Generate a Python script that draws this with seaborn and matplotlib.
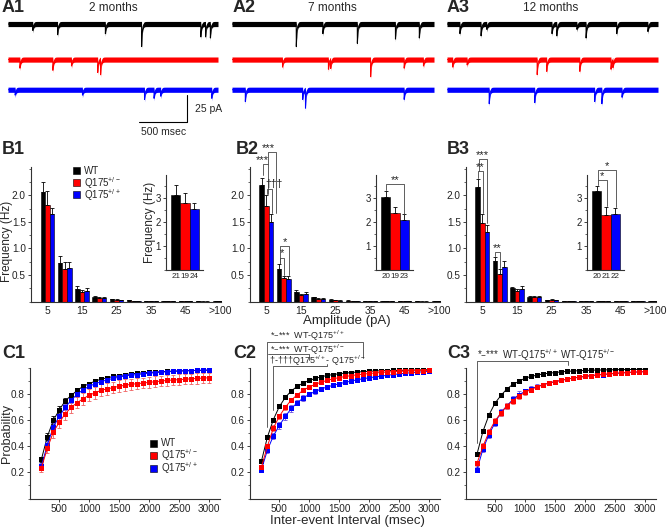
import numpy as np
import pandas as pd
import matplotlib
matplotlib.use("Agg")
import matplotlib.pyplot as plt
import seaborn as sns
from matplotlib.patches import Rectangle
from matplotlib.ticker import MultipleLocator, FixedLocator

sns.set_style("ticks")
plt.rcParams['font.family'] = ['Liberation Sans', 'DejaVu Sans']
plt.rcParams['mathtext.default'] = 'regular'
plt.rcParams['axes.linewidth'] = 0.8

# ---------------- data ----------------
genos = ['WT', 'Q175+/-', 'Q175+/+']
labels = ['WT', r'Q175$^{+/-}$', r'Q175$^{+/+}$']
pal = {'WT': '#000000', 'Q175+/-': '#ff0000', 'Q175+/+': '#0000ff'}
err_pal = {'WT': '#000000', 'Q175+/-': '#f06060', 'Q175+/+': '#6a4ee0'}

# A: example traces, event times (msec) and amplitudes (pA)
a1_wt_t = [260, 520, 1020, 1400, 2020, 2070, 2120]
a1_wt_a = [6, 10, 9, 21, 12, 12, 13]
a1_het_t = [125, 470, 665, 940, 970]
a1_het_a = [8, 10, 6, 12, 14]
a1_hom_t = [75, 780, 1430, 1530, 1600, 2135]
a1_hom_a = [5, 5, 9, 8, 6, 8]
a2_wt_t = [700, 990, 1365, 1780, 2040]
a2_wt_a = [21, 9, 18, 14, 13]
a2_het_t = [550, 1050, 1075, 1510, 1875, 2085]
a2_het_a = [7, 9, 8, 16, 8, 6]
a2_hom_t = [145, 770, 800, 1875]
a2_hom_a = [11, 9, 17, 9]
a3_wt_t = [135, 355, 415, 1095, 1145, 1355, 1450, 1770, 2095]
a3_wt_a = [9, 11, 5, 9, 11, 5, 13, 9, 7]
a3_het_t = [60, 210, 940, 1040, 1385, 1710, 1730]
a3_het_a = [7, 5, 14, 11, 11, 9, 7]
a3_hom_t = [440, 915, 1540, 1615, 1825]
a3_hom_a = [13, 12, 11, 13, 7]

# B: amplitude histograms (Hz)
bins = ['5', '10', '15', '20', '25', '30', '35', '40', '45', '50', '>100']
b1_wt = [2.06, 0.73, 0.24, 0.09, 0.05, 0.03, 0.015, 0.01, 0.008, 0.006, 0.01]
b1_wt_e = [0.19, 0.13, 0.06, 0.02, 0.01, 0.008, 0.005, 0.004, 0.003, 0.003, 0.004]
b1_het = [1.81, 0.61, 0.18, 0.07, 0.04, 0.015, 0.01, 0.006, 0.004, 0.003, 0.005]
b1_het_e = [0.27, 0.13, 0.04, 0.02, 0.01, 0.005, 0.004, 0.003, 0.002, 0.002, 0.003]
b1_hom = [1.64, 0.64, 0.21, 0.07, 0.03, 0.015, 0.01, 0.006, 0.004, 0.003, 0.005]
b1_hom_e = [0.12, 0.10, 0.04, 0.015, 0.01, 0.005, 0.004, 0.003, 0.002, 0.002, 0.003]
b2_wt = [2.19, 0.62, 0.18, 0.08, 0.04, 0.02, 0.01, 0.008, 0.006, 0.005, 0.006]
b2_wt_e = [0.14, 0.08, 0.04, 0.015, 0.01, 0.006, 0.004, 0.003, 0.003, 0.002, 0.003]
b2_het = [1.79, 0.44, 0.12, 0.06, 0.03, 0.015, 0.008, 0.006, 0.004, 0.003, 0.004]
b2_het_e = [0.21, 0.04, 0.03, 0.01, 0.008, 0.005, 0.003, 0.002, 0.002, 0.002, 0.002]
b2_hom = [1.49, 0.42, 0.15, 0.06, 0.02, 0.01, 0.008, 0.005, 0.004, 0.003, 0.004]
b2_hom_e = [0.15, 0.06, 0.04, 0.01, 0.006, 0.004, 0.003, 0.002, 0.002, 0.002, 0.002]
b3_wt = [2.16, 0.76, 0.25, 0.09, 0.03, 0.015, 0.01, 0.006, 0.005, 0.004, 0.005]
b3_wt_e = [0.14, 0.08, 0.03, 0.01, 0.006, 0.004, 0.003, 0.002, 0.002, 0.002, 0.002]
b3_het = [1.48, 0.52, 0.20, 0.09, 0.04, 0.015, 0.01, 0.006, 0.005, 0.004, 0.005]
b3_het_e = [0.16, 0.09, 0.04, 0.015, 0.008, 0.004, 0.003, 0.002, 0.002, 0.002, 0.002]
b3_hom = [1.31, 0.65, 0.24, 0.09, 0.03, 0.015, 0.01, 0.006, 0.005, 0.004, 0.005]
b3_hom_e = [0.14, 0.11, 0.06, 0.015, 0.008, 0.004, 0.003, 0.002, 0.002, 0.002, 0.002]

# B insets: mean frequency (Hz), n cells as tick labels
b1_in = [3.14, 2.78, 2.53]
b1_in_e = [0.39, 0.44, 0.25]
b1_n = ['21', '19', '24']
b2_in = [3.05, 2.39, 2.08]
b2_in_e = [0.24, 0.25, 0.24]
b2_n = ['20', '19', '23']
b3_in = [3.30, 2.31, 2.33]
b3_in_e = [0.21, 0.32, 0.27]
b3_n = ['20', '21', '22']

# C: cumulative probability of inter-event interval
iei = list(range(200, 3001, 100))
c1_wt = [0.30, 0.475, 0.60, 0.68, 0.75, 0.79, 0.83, 0.86, 0.88, 0.90, 0.915, 0.925, 0.935, 0.94, 0.95,
         0.955, 0.96, 0.963, 0.966, 0.969, 0.972, 0.974, 0.976, 0.978, 0.979, 0.98, 0.981, 0.982, 0.983]
c1_wt_e = [0.02, 0.025, 0.03, 0.025, 0.02, 0.02, 0.018, 0.016, 0.014, 0.013, 0.012, 0.011, 0.01, 0.009, 0.008,
           0.008, 0.007, 0.007, 0.006, 0.006, 0.005, 0.005, 0.005, 0.005, 0.004, 0.004, 0.004, 0.004, 0.004]
c1_het = [0.235, 0.385, 0.51, 0.585, 0.65, 0.70, 0.735, 0.765, 0.793, 0.81, 0.83, 0.84, 0.85, 0.86, 0.868,
          0.875, 0.88, 0.885, 0.89, 0.895, 0.90, 0.905, 0.908, 0.911, 0.914, 0.917, 0.92, 0.923, 0.925]
c1_het_e = [0.03, 0.04, 0.045, 0.045, 0.045, 0.045, 0.045, 0.045, 0.045, 0.045, 0.045, 0.045, 0.045, 0.045, 0.045,
            0.04, 0.04, 0.04, 0.04, 0.04, 0.04, 0.04, 0.04, 0.04, 0.04, 0.04, 0.04, 0.04, 0.04]
c1_hom = [0.25, 0.41, 0.55, 0.63, 0.70, 0.755, 0.80, 0.835, 0.86, 0.88, 0.895, 0.91, 0.92, 0.93, 0.94,
          0.945, 0.95, 0.955, 0.96, 0.964, 0.968, 0.971, 0.974, 0.976, 0.978, 0.98, 0.982, 0.983, 0.985]
c1_hom_e = [0.02, 0.03, 0.03, 0.03, 0.025, 0.02, 0.02, 0.018, 0.016, 0.015, 0.014, 0.013, 0.012, 0.011, 0.01,
            0.01, 0.009, 0.009, 0.008, 0.008, 0.007, 0.007, 0.007, 0.006, 0.006, 0.006, 0.006, 0.005, 0.005]
c2_wt = [0.285, 0.47, 0.605, 0.705, 0.775, 0.825, 0.86, 0.885, 0.905, 0.92, 0.933, 0.943, 0.95, 0.956, 0.961,
         0.965, 0.969, 0.972, 0.975, 0.977, 0.979, 0.98, 0.981, 0.982, 0.983, 0.984, 0.985, 0.986, 0.987]
c2_wt_e = [0.015, 0.015, 0.015, 0.015, 0.012, 0.01, 0.009, 0.008, 0.007, 0.006, 0.006, 0.005, 0.005, 0.005, 0.004,
           0.004, 0.004, 0.004, 0.003, 0.003, 0.003, 0.003, 0.003, 0.003, 0.003, 0.003, 0.003, 0.003, 0.003]
c2_het = [0.24, 0.40, 0.54, 0.63, 0.70, 0.755, 0.795, 0.83, 0.855, 0.875, 0.892, 0.905, 0.917, 0.927, 0.935,
          0.942, 0.948, 0.953, 0.958, 0.962, 0.966, 0.969, 0.972, 0.974, 0.976, 0.978, 0.979, 0.98, 0.981]
c2_het_e = [0.02, 0.02, 0.02, 0.02, 0.02, 0.018, 0.016, 0.015, 0.013, 0.012, 0.011, 0.01, 0.01, 0.009, 0.009,
            0.008, 0.008, 0.007, 0.007, 0.007, 0.006, 0.006, 0.006, 0.005, 0.005, 0.005, 0.005, 0.005, 0.005]
c2_hom = [0.22, 0.37, 0.48, 0.56, 0.63, 0.69, 0.735, 0.77, 0.80, 0.82, 0.84, 0.855, 0.868, 0.88, 0.89,
          0.90, 0.91, 0.918, 0.925, 0.932, 0.938, 0.944, 0.95, 0.955, 0.96, 0.964, 0.968, 0.971, 0.974]
c2_hom_e = [0.015, 0.02, 0.025, 0.025, 0.025, 0.025, 0.022, 0.02, 0.018, 0.016, 0.015, 0.014, 0.013, 0.012, 0.011,
            0.01, 0.01, 0.009, 0.009, 0.008, 0.008, 0.007, 0.007, 0.007, 0.006, 0.006, 0.006, 0.005, 0.005]
c3_wt = [0.34, 0.515, 0.64, 0.73, 0.79, 0.84, 0.875, 0.897, 0.922, 0.935, 0.945, 0.955, 0.96, 0.965, 0.97,
         0.974, 0.977, 0.979, 0.981, 0.983, 0.984, 0.985, 0.986, 0.987, 0.988, 0.988, 0.989, 0.989, 0.99]
c3_wt_e = [0.015, 0.015, 0.015, 0.012, 0.01, 0.009, 0.008, 0.007, 0.006, 0.005, 0.005, 0.005, 0.004, 0.004, 0.004,
           0.003, 0.003, 0.003, 0.003, 0.003, 0.003, 0.003, 0.003, 0.003, 0.003, 0.003, 0.003, 0.003, 0.003]
c3_het = [0.27, 0.40, 0.51, 0.595, 0.655, 0.71, 0.75, 0.785, 0.813, 0.835, 0.855, 0.87, 0.885, 0.895, 0.905,
          0.915, 0.923, 0.93, 0.936, 0.942, 0.947, 0.951, 0.955, 0.959, 0.962, 0.965, 0.968, 0.97, 0.972]
c3_het_e = [0.02, 0.025, 0.025, 0.025, 0.025, 0.025, 0.025, 0.025, 0.022, 0.02, 0.018, 0.016, 0.015, 0.014, 0.013,
            0.012, 0.011, 0.01, 0.01, 0.009, 0.009, 0.008, 0.008, 0.008, 0.007, 0.007, 0.007, 0.007, 0.007]
c3_hom = [0.22, 0.38, 0.49, 0.58, 0.66, 0.71, 0.76, 0.795, 0.82, 0.84, 0.857, 0.872, 0.885, 0.895, 0.905,
          0.914, 0.922, 0.929, 0.935, 0.941, 0.946, 0.95, 0.954, 0.958, 0.962, 0.965, 0.968, 0.97, 0.972]
c3_hom_e = [0.02, 0.025, 0.025, 0.025, 0.025, 0.025, 0.025, 0.025, 0.022, 0.02, 0.018, 0.016, 0.015, 0.014, 0.013,
            0.012, 0.011, 0.01, 0.01, 0.009, 0.009, 0.008, 0.008, 0.008, 0.007, 0.007, 0.007, 0.007, 0.007]

# ---------------- figure helpers ----------------
W, H = 667, 529
fig = plt.figure(figsize=(W / 100, H / 100), dpi=100)


def box(l, t, r, b):
    return fig.add_axes([l / W, 1 - b / H, (r - l) / W, (b - t) / H])


def ftext(px, py, s, **kw):
    fig.text(px / W, 1 - py / H, s, **kw)


def style_ax(ax):
    sns.despine(ax=ax)
    for s in ['left', 'bottom']:
        ax.spines[s].set_color('#333333')
        ax.spines[s].set_linewidth(0.8)
    ax.tick_params(labelsize=7.2, length=2.5, width=0.6, pad=1.2, colors='#222222')
    ax.tick_params(which='minor', length=1.5, width=0.5)
    ax.set_facecolor('none')


def bracket(ax, x0, x1, y, y0, y1, lw=0.6):
    ax.plot([x0, x0, x1, x1], [y0, y, y, y1], color='#444444', lw=lw, clip_on=False)


def star(ax, x, y, s, size=8):
    ax.text(x, y, s, ha='center', va='bottom', fontsize=size, color='#222222', clip_on=False)


# ---------------- A: traces ----------------
trace_t = np.arange(0, 2201)


def make_trace(times, amps):
    y = np.zeros(len(trace_t))
    for t0, a in zip(times, amps):
        dt = trace_t - t0
        m = dt >= 0
        y[m] -= a * np.exp(-dt[m] / 7.0)
    return y


a_sets = [
    ((8, 218), '2 months', 113,
     [(a1_wt_t, a1_wt_a), (a1_het_t, a1_het_a), (a1_hom_t, a1_hom_a)]),
    ((232, 434), '7 months', 332,
     [(a2_wt_t, a2_wt_a), (a2_het_t, a2_het_a), (a2_hom_t, a2_hom_a)]),
    ((447, 658), '12 months', 551,
     [(a3_wt_t, a3_wt_a), (a3_het_t, a3_het_a), (a3_hom_t, a3_hom_a)]),
]
offsets = [0, -33, -61]
for i, ((l, r), title, tx, traces) in enumerate(a_sets):
    ax = box(l, 10, r, 135)
    for (tt, aa), g, off in zip(traces, genos, offsets):
        y = make_trace(tt, aa) + off
        ax.fill_between(trace_t, y - 2.4, y + 2.4, color=pal[g], lw=0)
        sns.lineplot(x=trace_t, y=y, color=pal[g], lw=0.7, ax=ax)
    ax.set_xlim(0, 2200)
    ax.set_ylim(-103, 13)
    ax.axis('off')
    ftext(tx, 8, title, ha='center', va='center', fontsize=8.5)
    if i == 0:
        ax.plot([1375, 1880, 1880], [-90.7, -90.7, -65.7], color='black', lw=0.8, clip_on=False)
        ax.text(1960, -79, '25 pA', ha='left', va='center', fontsize=7.5)
        ax.text(1625, -100.5, '500 msec', ha='center', va='center', fontsize=7.5)

# ---------------- B: amplitude histograms ----------------
b_sets = [
    (31, [b1_wt, b1_het, b1_hom], [b1_wt_e, b1_het_e, b1_hom_e], 166, b1_in, b1_in_e, b1_n),
    (250, [b2_wt, b2_het, b2_hom], [b2_wt_e, b2_het_e, b2_hom_e], 376, b2_in, b2_in_e, b2_n),
    (466, [b3_wt, b3_het, b3_hom], [b3_wt_e, b3_het_e, b3_hom_e], 587, b3_in, b3_in_e, b3_n),
]
b_axes = []
in_axes = []
for k, (l, vals, errs, il, iv, ie, n) in enumerate(b_sets):
    ax = box(l, 167, l + 190, 301.7)
    df = pd.DataFrame({'bin': bins * 3,
                       'geno': [g for g in genos for _ in bins],
                       'freq': vals[0] + vals[1] + vals[2]})
    sns.barplot(data=df, x='bin', y='freq', hue='geno', order=bins, hue_order=genos,
                palette=pal, errorbar=None, edgecolor='black', linewidth=0.4,
                saturation=1, width=0.8, legend=False, ax=ax)
    for j, g in enumerate(genos):
        xs = np.arange(len(bins)) + (j - 1) * 0.8 / 3
        ax.errorbar(xs, vals[j], yerr=[np.zeros(len(bins)), errs[j]], fmt='none',
                    ecolor='black', elinewidth=0.6, capsize=1.3, capthick=0.6)
    ax.set_xlim(-0.95, 10.05)
    ax.set_ylim(0, 2.53)
    ax.set_xticks(range(0, 11, 2))
    ax.set_xticklabels(['5', '15', '25', '35', '45', '>100'])
    ax.yaxis.set_major_locator(FixedLocator([0.5, 1.0, 1.5, 2.0]))
    ax.yaxis.set_minor_locator(MultipleLocator(0.25))
    ax.set_xlabel('')
    ax.set_ylabel('')
    style_ax(ax)
    ax.tick_params(axis='x', length=0, pad=3, labelsize=7.5)
    b_axes.append(ax)

    # inset: mean frequency
    ia = box(il, 175, il + 37, 270)
    idf = pd.DataFrame({'n': n, 'geno': genos, 'freq': iv})
    sns.barplot(data=idf, x='n', y='freq', hue='n', order=n,
                palette={nn: pal[g] for nn, g in zip(n, genos)}, errorbar=None,
                edgecolor='black', linewidth=0.4, saturation=1, width=1.0,
                legend=False, ax=ia)
    ia.errorbar(range(3), iv, yerr=[np.zeros(3), ie], fmt='none', ecolor='black',
                elinewidth=0.6, capsize=1.3, capthick=0.6)
    ia.set_xlim(-1.04, 2.93)
    ia.set_ylim(0, 3.96)
    ia.yaxis.set_major_locator(FixedLocator([1, 2, 3]))
    ia.yaxis.set_minor_locator(MultipleLocator(0.5))
    ia.set_xlabel('')
    ia.set_ylabel('')
    style_ax(ia)
    ia.tick_params(axis='x', length=0, pad=2, labelsize=5.8)
    ia.tick_params(axis='y', labelsize=7)
    in_axes.append(ia)

b_axes[0].set_ylabel('Frequency (Hz)', fontsize=8.5)
b_axes[0].yaxis.set_label_coords(-0.097, 0.45)
in_axes[0].set_ylabel('Frequency (Hz)', fontsize=8.5)
in_axes[0].yaxis.set_label_coords(-0.27, 0.5)
ftext(347, 321, 'Amplitude (pA)', ha='center', va='center', fontsize=9.5)

# legend B1
for j, (g, lab) in enumerate(zip(genos, labels)):
    py = 171 + 12 * j
    fig.patches.append(Rectangle((73 / W, 1 - (py + 3.5) / H), 7 / W, 7 / H,
                                 transform=fig.transFigure, facecolor=pal[g],
                                 edgecolor='black', lw=0.4))
    ftext(84, py, lab, ha='left', va='center', fontsize=7)

# significance marks B2
ax = b_axes[1]
bracket(ax, -0.21, 0.08, 2.58, 2.38, 2.03)
star(ax, -0.25, 2.57, '***')
bracket(ax, 0.08, 0.54, 2.81, 2.58, 1.66)
star(ax, 0.12, 2.80, '***')
bracket(ax, 0.02, 0.30, 2.11, 2.02, 1.66)
star(ax, 0.42, 2.12, '†††', size=7.5)
bracket(ax, 0.76, 1.30, 1.04, 0.72, 0.50)
star(ax, 1.06, 1.02, '*')
bracket(ax, 0.76, 1.03, 0.83, 0.72, 0.50)
star(ax, 0.88, 0.81, '*')
ia = in_axes[1]
bracket(ia, 0.0, 2.0, 3.58, 3.32, 2.35)
star(ia, 1.0, 3.53, '**')

# significance marks B3
ax = b_axes[2]
bracket(ax, -0.27, 0.03, 2.45, 2.32, 1.66)
star(ax, -0.12, 2.43, '**')
bracket(ax, -0.20, 0.28, 2.68, 2.45, 1.47)
star(ax, 0.0, 2.66, '***')
bracket(ax, 0.73, 1.03, 0.94, 0.86, 0.63)
star(ax, 0.88, 0.92, '**')
ia = in_axes[2]
bracket(ia, 0.1, 1.1, 3.75, 3.55, 2.65)
star(ia, 0.55, 3.70, '*')
bracket(ia, 0.1, 2.1, 4.17, 3.75, 2.62)
star(ia, 1.1, 4.12, '*')

# ---------------- C: cumulative IEI ----------------
c_sets = [
    (30, [c1_wt, c1_het, c1_hom], [c1_wt_e, c1_het_e, c1_hom_e]),
    (250, [c2_wt, c2_het, c2_hom], [c2_wt_e, c2_het_e, c2_hom_e]),
    (465.6, [c3_wt, c3_het, c3_hom], [c3_wt_e, c3_het_e, c3_hom_e]),
]
c_axes = []
for l, vals, errs in c_sets:
    ax = box(l, 368, l + 190, 498.5)
    for j in [0, 2, 1]:
        g = genos[j]
        ax.errorbar(iei, vals[j], yerr=errs[j], fmt='none', ecolor=err_pal[g],
                    elinewidth=0.6, capsize=1.5, capthick=0.6, zorder=2)
        sns.lineplot(x=iei, y=vals[j], color=pal[g], lw=0.7, marker='s',
                     markersize=3.6, markeredgewidth=0, ax=ax, zorder=3)
    ax.set_xlim(10, 3180)
    ax.set_ylim(0, 1.0)
    ax.set_xticks(range(500, 3001, 500))
    ax.yaxis.set_major_locator(FixedLocator([0.2, 0.4, 0.6, 0.8]))
    ax.yaxis.set_minor_locator(MultipleLocator(0.1))
    ax.set_xlabel('')
    ax.set_ylabel('')
    style_ax(ax)
    c_axes.append(ax)

c_axes[0].set_ylabel('Probability', fontsize=9)
c_axes[0].yaxis.set_label_coords(-0.092, 0.5)
ftext(347, 521, 'Inter-event Interval (msec)', ha='center', va='center', fontsize=9.5)

# legend C1
for j, (g, lab) in enumerate(zip(genos, labels)):
    py = 443 + 12.5 * j
    fig.patches.append(Rectangle((150 / W, 1 - (py + 3.5) / H), 7 / W, 7 / H,
                                 transform=fig.transFigure, facecolor=pal[g],
                                 edgecolor='black', lw=0.4))
    ftext(161, py, lab, ha='left', va='center', fontsize=7)

# significance C2
ax = c_axes[1]
ax.text(350, 1.245, '*–***  WT-Q175$^{+/+}$', ha='left', va='center', fontsize=6.5, clip_on=False)
ax.plot([300, 300, 1900, 1900], [0.55, 1.20, 1.20, 1.077], color='#444444', lw=0.6, clip_on=False)
ax.text(350, 1.143, '*–***  WT-Q175$^{+/-}$', ha='left', va='center', fontsize=6.5, clip_on=False)
ax.plot([317, 1000, 1000], [1.107, 1.107, 1.06], color='#444444', lw=0.6, clip_on=False)
ax.text(330, 1.052, '†-†††Q175$^{+/+}$- Q175$^{+/-}$', ha='left', va='center', fontsize=6.5, clip_on=False)
ax.plot([400, 400, 1290, 1290], [0.678, 1.012, 1.012, 1.03], color='#444444', lw=0.6, clip_on=False)

# significance C3
ax = c_axes[2]
ax.text(200, 1.10, '*–***  WT-Q175$^{+/+}$ WT-Q175$^{+/-}$', ha='left', va='center',
        fontsize=7, clip_on=False)
ax.plot([200, 200, 1713, 1713], [0.425, 1.054, 1.054, 1.023], color='#444444', lw=0.6, clip_on=False)

# ---------------- panel labels ----------------
for s, px, py in [('A1', 2, 8), ('A2', 233, 8), ('A3', 447, 8),
                  ('B1', 2, 150), ('B2', 236, 150), ('B3', 447, 150),
                  ('C1', 2, 354), ('C2', 233, 354), ('C3', 447, 354)]:
    ftext(px, py, s, ha='left', va='center', fontsize=13, fontweight='bold')

fig.savefig('out.png', dpi=100)
